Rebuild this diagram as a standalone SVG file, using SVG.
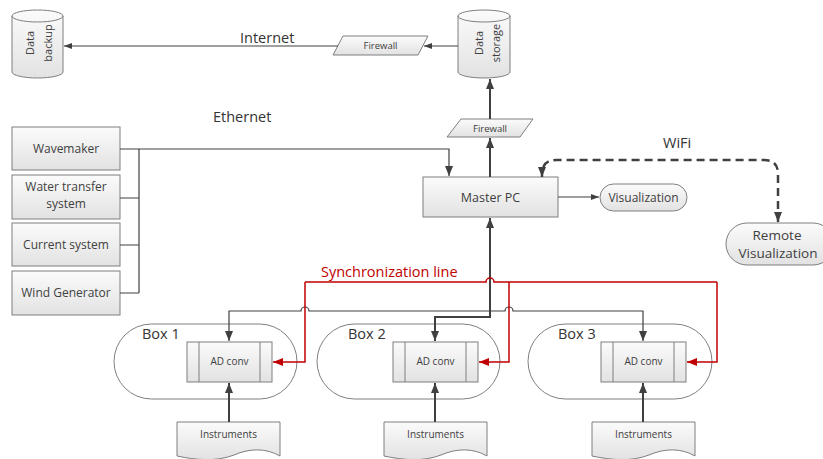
<svg xmlns="http://www.w3.org/2000/svg" width="823" height="459" viewBox="0 0 823 459">
<defs>
<linearGradient id="g" x1="0" y1="0" x2="0" y2="1">
<stop offset="0" stop-color="#fbfbfb"/>
<stop offset="1" stop-color="#e2e2e2"/>
</linearGradient>
<marker id="a" viewBox="0 0 10 8" refX="10" refY="4" markerWidth="10" markerHeight="8" markerUnits="userSpaceOnUse" orient="auto-start-reverse">
<path d="M0,0 L10,4 L0,8 Z" fill="#404040"/>
</marker>
<marker id="as" viewBox="0 0 8 6" refX="8" refY="3" markerWidth="8" markerHeight="6" markerUnits="userSpaceOnUse" orient="auto">
<path d="M0,0 L8,3 L0,6 Z" fill="#404040"/>
</marker>
<marker id="ar" viewBox="0 0 10 8" refX="10" refY="4" markerWidth="10" markerHeight="8" markerUnits="userSpaceOnUse" orient="auto">
<path d="M0,0 L10,4 L0,8 Z" fill="#c00000"/>
</marker>
</defs>
<style>
.sh{fill:url(#g);stroke:#7f7f7f;stroke-width:1}
.ln{fill:none;stroke:#7f7f7f;stroke-width:1}
.t{font-family:"Open Sans","Liberation Sans",sans-serif;fill:#404040;text-anchor:middle}
.lb{font-family:"Open Sans","Liberation Sans",sans-serif;fill:#333333}
.c{fill:none;stroke:#404040}
.thin{stroke-width:1.2}
.thick{stroke-width:2}
.red{fill:none;stroke:#c00000;stroke-width:1.5}
.dash{fill:none;stroke:#404040;stroke-width:2.5;stroke-dasharray:8 5}
</style>

<g id="data-backup">
<path class="sh" d="M12,16 A25.5,6 0 0 1 63,16 V72 A25.5,6 0 0 1 12,72 Z"/>
<path class="ln" d="M12,16 A25.5,6 0 0 0 63,16"/>
<text class="t" font-size="11" transform="translate(37.5,43) rotate(-90)"><tspan x="0" y="-3.5">Data</tspan><tspan x="0" y="14">backup</tspan></text>
</g>

<g id="data-storage">
<path class="sh" d="M458,16 A26,6 0 0 1 510,16 V72 A26,6 0 0 1 458,72 Z"/>
<path class="ln" d="M458,16 A26,6 0 0 0 510,16"/>
<text class="t" font-size="11" transform="translate(484,43) rotate(-90)"><tspan x="0" y="-1">Data</tspan><tspan x="0" y="16">storage</tspan></text>
</g>

<g id="firewall-1">
<polygon class="sh" points="343,36 428,36 418,55 333,55"/>
<text class="t" font-size="9.5" x="380.5" y="49">Firewall</text>
</g>

<g id="firewall-2">
<polygon class="sh" points="461,119 533,119 520,137 447,137"/>
<text class="t" font-size="9.5" x="490" y="132">Firewall</text>
</g>

<g id="wavemaker">
<rect class="sh" x="12" y="127" width="108" height="43"/>
<text class="t" font-size="12" x="66" y="152.5">Wavemaker</text>
</g>
<g id="water-transfer">
<rect class="sh" x="12" y="175" width="108" height="44"/>
<text class="t" font-size="12" x="66" y="191">Water transfer</text>
<text class="t" font-size="12" x="66" y="208">system</text>
</g>
<g id="current-system">
<rect class="sh" x="12" y="223" width="108" height="43"/>
<text class="t" font-size="12" x="66" y="249">Current system</text>
</g>
<g id="wind-generator">
<rect class="sh" x="12" y="271" width="108" height="44"/>
<text class="t" font-size="12" x="66" y="297">Wind Generator</text>
</g>

<g id="master-pc">
<rect class="sh" x="423" y="177" width="135" height="40"/>
<text class="t" font-size="12.5" x="490.5" y="201.5">Master PC</text>
</g>

<g id="visualization">
<rect class="sh" x="600" y="184" width="87" height="27" rx="13.5"/>
<text class="t" font-size="12" x="643.5" y="201.5">Visualization</text>
</g>

<g id="remote-visualization">
<rect class="sh" x="726" y="223" width="108" height="42" rx="21"/>
<text class="t" font-size="13.5" x="777" y="239.5">Remote</text>
<text class="t" font-size="13.5" x="778" y="258">Visualization</text>
</g>

<g id="box-1">
<rect class="ln" x="114" y="324" width="183" height="75" rx="37.5"/>
<text class="lb" font-size="14.5" x="142" y="339">Box 1</text>
</g>
<g id="box-2">
<rect class="ln" x="317" y="324" width="183" height="75" rx="37.5"/>
<text class="lb" font-size="14.5" x="348" y="339">Box 2</text>
</g>
<g id="box-3">
<rect class="ln" x="528" y="324" width="184" height="75" rx="37.5"/>
<text class="lb" font-size="14.5" x="558" y="339">Box 3</text>
</g>

<g id="ad-conv-1">
<rect class="sh" x="187" y="342" width="85" height="40"/>
<path class="ln" d="M199,342 V382 M260,342 V382"/>
<text class="t" font-size="10" x="229.5" y="365">AD conv</text>
</g>
<g id="ad-conv-2">
<rect class="sh" x="393" y="342" width="85" height="40"/>
<path class="ln" d="M405,342 V382 M466,342 V382"/>
<text class="t" font-size="10" x="435.5" y="365">AD conv</text>
</g>
<g id="ad-conv-3">
<rect class="sh" x="601" y="342" width="85" height="40"/>
<path class="ln" d="M613,342 V382 M674,342 V382"/>
<text class="t" font-size="10" x="643.5" y="365">AD conv</text>
</g>

<g id="instruments-1">
<path class="sh" d="M177,422 H280 V456 C266,448 250,448 234,455 C216,462 196,460 177,456 Z"/>
<text class="t" font-size="10" x="228.5" y="438">Instruments</text>
</g>
<g id="instruments-2">
<path class="sh" d="M384,422 H487 V456 C473,448 457,448 441,455 C423,462 403,460 384,456 Z"/>
<text class="t" font-size="10" x="435.5" y="438">Instruments</text>
</g>
<g id="instruments-3">
<path class="sh" d="M592,422 H695 V456 C681,448 665,448 649,455 C631,462 611,460 592,456 Z"/>
<text class="t" font-size="10" x="643.5" y="438">Instruments</text>
</g>

<g id="labels">
<text class="lb" font-size="14.5" x="240" y="43">Internet</text>
<text class="lb" font-size="14.5" x="213" y="122">Ethernet</text>
<text class="lb" font-size="14.5" x="663" y="148">WiFi</text>
<text font-family="Open Sans, Liberation Sans, sans-serif" font-size="14.5" fill="#c00000" x="321" y="277">Synchronization line</text>
</g>

<g id="connectors">
<path class="c thin" d="M458,46 H424" marker-end="url(#as)"/>
<path class="c thin" d="M338,46 H64" marker-end="url(#as)"/>
<path class="c thick" d="M490,119 V79" marker-end="url(#a)"/>
<path class="c thick" d="M490,177 V138" marker-end="url(#a)"/>
<path class="c thin" d="M120,149 H449 V176" marker-end="url(#a)"/>
<path class="c thin" d="M139,149 V293 M120,198 H139 M120,245 H139 M120,293 H139"/>
<path class="c thin" d="M558,197 H599" marker-end="url(#as)"/>
<path class="dash" d="M778,222 V174 Q778,160 764,160 H556 Q542,160 542,174 V177" marker-start="url(#a)" marker-end="url(#a)"/>
<path class="c thick" d="M490,218 V317 H435 V341" marker-start="url(#a)" marker-end="url(#a)"/>
<path class="c thin" d="M490,311 H309 A4,4 0 0 0 301,311 H229 V341" marker-end="url(#a)"/>
<path class="c thin" d="M490,311 H505 A4,4 0 0 1 513,311 H643 V341" marker-end="url(#a)"/>
<path class="c thick" d="M229,422 V383" marker-end="url(#a)"/>
<path class="c thick" d="M435,422 V383" marker-end="url(#a)"/>
<path class="c thick" d="M643,422 V383" marker-end="url(#a)"/>
<path class="red" d="M305,282 H486 A4,4 0 0 1 494,282 H717"/>
<path class="red" d="M305,282 V362 H273" marker-end="url(#ar)"/>
<path class="red" d="M509,282 V362 H479" marker-end="url(#ar)"/>
<path class="red" d="M717,282 V362 H687" marker-end="url(#ar)"/>
</g>
</svg>
